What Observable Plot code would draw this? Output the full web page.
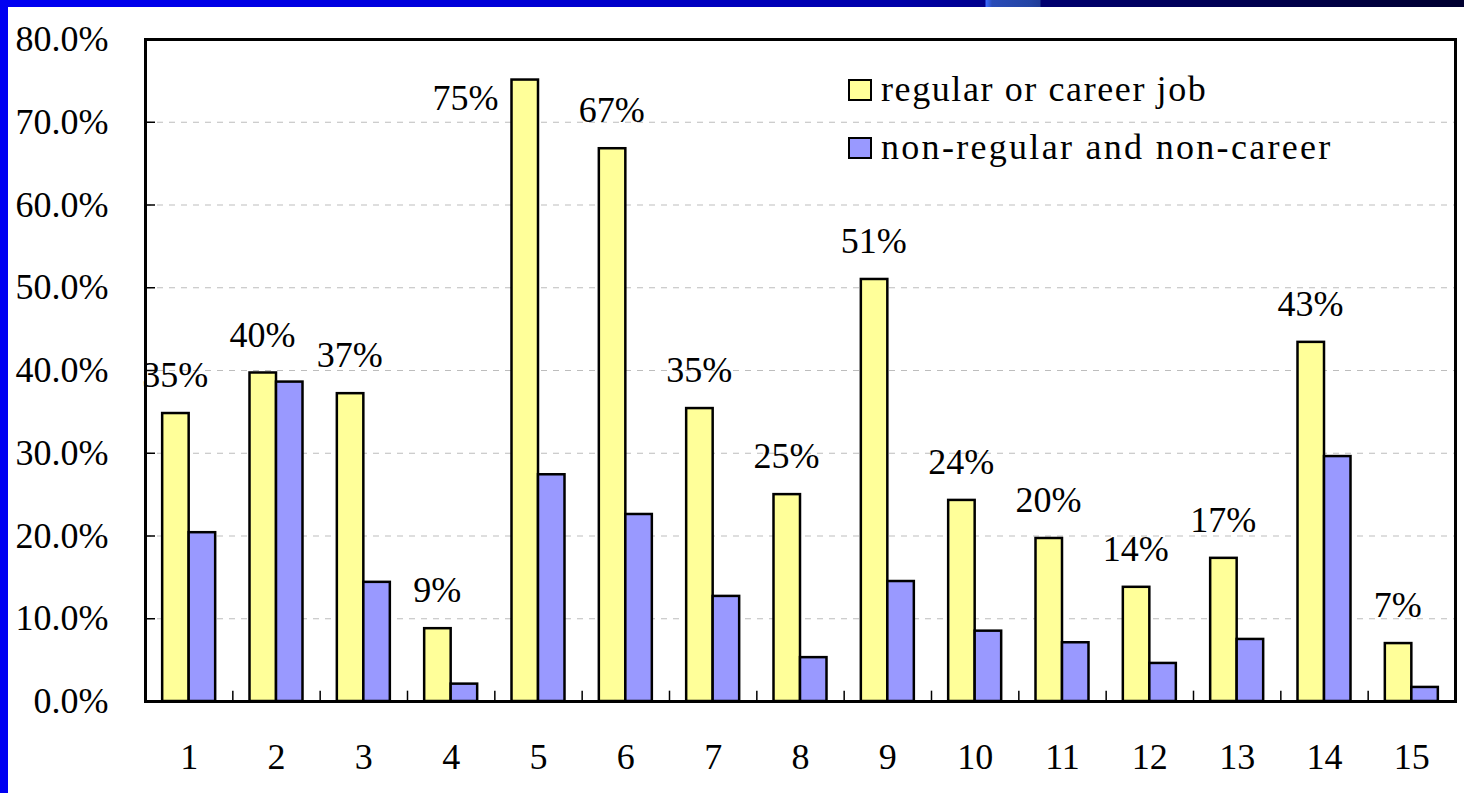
<!DOCTYPE html>
<html>
<head>
<meta charset="utf-8">
<script src="https://cdn.jsdelivr.net/npm/d3@7"></script>
<script src="https://cdn.jsdelivr.net/npm/@observablehq/plot@0.6"></script>
<style>
  html, body { margin: 0; padding: 0; background: #fff; }
  #wrap { position: relative; width: 1464px; height: 793px; overflow: hidden; background: #fff; }
  #leftbar { position: absolute; left: 0; top: 0; width: 8px; height: 793px; background: #0000f2; z-index: 2; }
  #topbar { position: absolute; left: 0; top: 0; width: 1464px; height: 7px; z-index: 3;
    background: linear-gradient(90deg, #0000f2 0px, #0000d8 500px, #0000a8 900px, #00008c 985px, #3a6aff 986px, #2a4cb8 992px, #2444a4 1030px, #203c98 1040px, #000070 1041px, #000050 1250px, #000030 1464px); }
  #legend { position: absolute; left: 848px; top: 76px; z-index: 4; font-family: 'Liberation Serif', serif; font-size: 36px; color: #000; }
  .row { display: flex; align-items: center; height: 27px; margin-bottom: 31px; }
  .sw { width: 20px; height: 18px; border: 2.5px solid #000; margin-right: 9px; }
  .lab { line-height: 27px; white-space: nowrap; }
  #chart svg text { font-family: 'Liberation Serif', serif; }
</style>
</head>
<body>
<div id="wrap">
  <div id="leftbar"></div>
  <div id="topbar"></div>
  <div id="chart"></div>
  <div id="legend"></div>
</div>
<script>
const categories = ["1","2","3","4","5","6","7","8","9","10","11","12","13","14","15"];
const regular    = [34.8, 39.7, 37.2, 8.8, 75.1, 66.8, 35.4, 25.0, 51.0, 24.3, 19.7, 13.8, 17.3, 43.4, 7.0];
const nonRegular = [20.4, 38.6, 14.4, 2.1, 27.4, 22.6, 12.7, 5.3, 14.5, 8.5, 7.1, 4.6, 7.5, 29.6, 1.7];
const valueLabels = ["35%","40%","37%","9%","75%","67%","35%","25%","51%","24%","20%","14%","17%","43%","7%"];
const yTicks = [0, 10, 20, 30, 40, 50, 60, 70, 80];
const seriesNames = ["regular or career job", "non-regular and non-career"];
const seriesColors = ["#ffff99", "#9999ff"];

const data = categories.map((c, i) => ({cat: c, reg: regular[i], non: nonRegular[i], label: valueLabels[i]}));

const W = 1464, H = 793, mL = 145, mR = 9, mT = 39, mB = 92;
const bw = (W - mL - mR) / categories.length;
const barW = 26.5;
const serif = "'Liberation Serif', serif";

const chart = Plot.plot({
  width: W, height: H,
  marginLeft: mL, marginRight: mR, marginTop: mT, marginBottom: mB,
  style: {fontFamily: serif, fontSize: "36px", background: "transparent", color: "#000"},
  x: {domain: categories, padding: 0, round: false, label: null},
  y: {domain: [0, 80], label: null},
  marks: [
    Plot.gridY(yTicks.slice(1, -1), {stroke: "#bdbdbd", strokeOpacity: 1, strokeWidth: 1.2, strokeDasharray: "6,6"}),
    Plot.barY(data, {x: "cat", y: "reg", fill: seriesColors[0], stroke: "#000", strokeWidth: 2.5,
      insetLeft: bw / 2 - barW, insetRight: bw / 2}),
    Plot.barY(data, {x: "cat", y: "non", fill: seriesColors[1], stroke: "#000", strokeWidth: 2.5,
      insetLeft: bw / 2, insetRight: bw / 2 - barW}),
    Plot.text(data.filter(d => d.reg <= 70), {x: "cat", y: "reg", text: "label", dx: -14, dy: -38, fontSize: 36, fontFamily: serif}),
    Plot.text(data.filter(d => d.reg > 70), {x: "cat", y: "reg", text: "label", dx: -73, dy: 18, fontSize: 36, fontFamily: serif}),
    Plot.tickY(yTicks.slice(1, -1), {y: d => d, x: () => categories[0], insetRight: bw - 10, stroke: "#000", strokeWidth: 1.5}),
    Plot.ruleX(categories.slice(1), {x: d => d, dx: -bw / 2, y1: 0, y2: 1.25, stroke: "#000", strokeWidth: 1.5}),
    Plot.axisY({ticks: yTicks, tickSize: 0, tickPadding: 37, tickFormat: d => d.toFixed(1) + "%", label: null, fontSize: 36, fontFamily: serif}),
    Plot.axisX({tickSize: 0, tickPadding: 42, label: null, fontSize: 36, fontFamily: serif}),
    Plot.frame({stroke: "#000", strokeWidth: 3})
  ]
});
document.getElementById("chart").appendChild(chart);

const legend = document.getElementById("legend");
seriesNames.forEach((name, i) => {
  const row = document.createElement("div");
  row.className = "row";
  const sw = document.createElement("div");
  sw.className = "sw";
  sw.style.background = seriesColors[i];
  const lab = document.createElement("div");
  lab.className = "lab";
  lab.style.letterSpacing = i === 0 ? "1.6px" : "2.3px";
  lab.textContent = name;
  row.appendChild(sw);
  row.appendChild(lab);
  legend.appendChild(row);
});
</script>
</body>
</html>
